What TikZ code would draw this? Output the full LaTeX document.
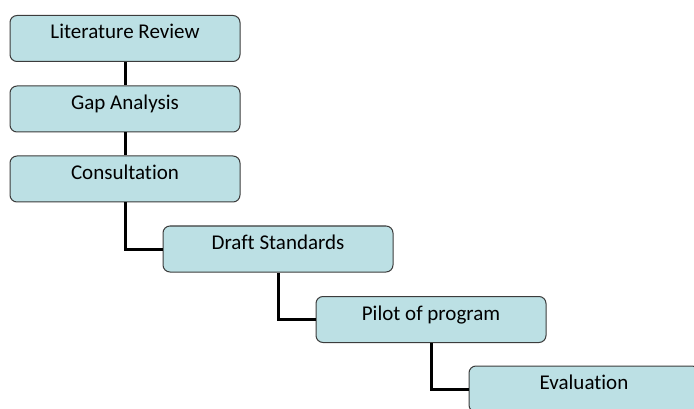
\documentclass[tikz,border=0pt]{standalone}
\usepackage{fontspec}
\setmainfont[Ligatures=NoCommon]{Carlito}
\definecolor{boxfill}{RGB}{188,224,228}
\definecolor{boxline}{RGB}{60,60,60}
\begin{document}
\begin{tikzpicture}[x=1pt,y=-1pt,
  stepbox/.style={draw=boxline, line width=1pt, fill=boxfill,
    rounded corners=7pt, minimum width=230pt, minimum height=46pt,
    inner sep=0pt, text height=14pt, text depth=13pt,
    font=\fontsize{21}{24}\selectfont},
  link/.style={line width=3pt, black}]
  \useasboundingbox (0,0) rectangle (694,409);
  % chain of stages, each one dropped below and to the right of the last
  \node[stepbox] (lit)   at (125,38.5)  {Literature Review};
  \node[stepbox] (gap)   at (125,109)   {Gap Analysis};
  \node[stepbox] (cons)  at (125,179)   {Consultation};
  \node[stepbox] (draft) at (278,249)   {Draft Standards};
  \node[stepbox] (pilot) at (431,319.5) {Pilot of program};
  \node[stepbox] (eval)  at (584,389)   {Evaluation};
  % elbow connectors from the bottom of one stage to the next
  \draw[link] (lit.south) -- (gap.north);
  \draw[link] (gap.south) -- (cons.north);
  \draw[link] (cons.south) |- (draft.west);
  \draw[link] (draft.south) |- (pilot.west);
  \draw[link] (pilot.south) |- (eval.west);
\end{tikzpicture}
\end{document}
